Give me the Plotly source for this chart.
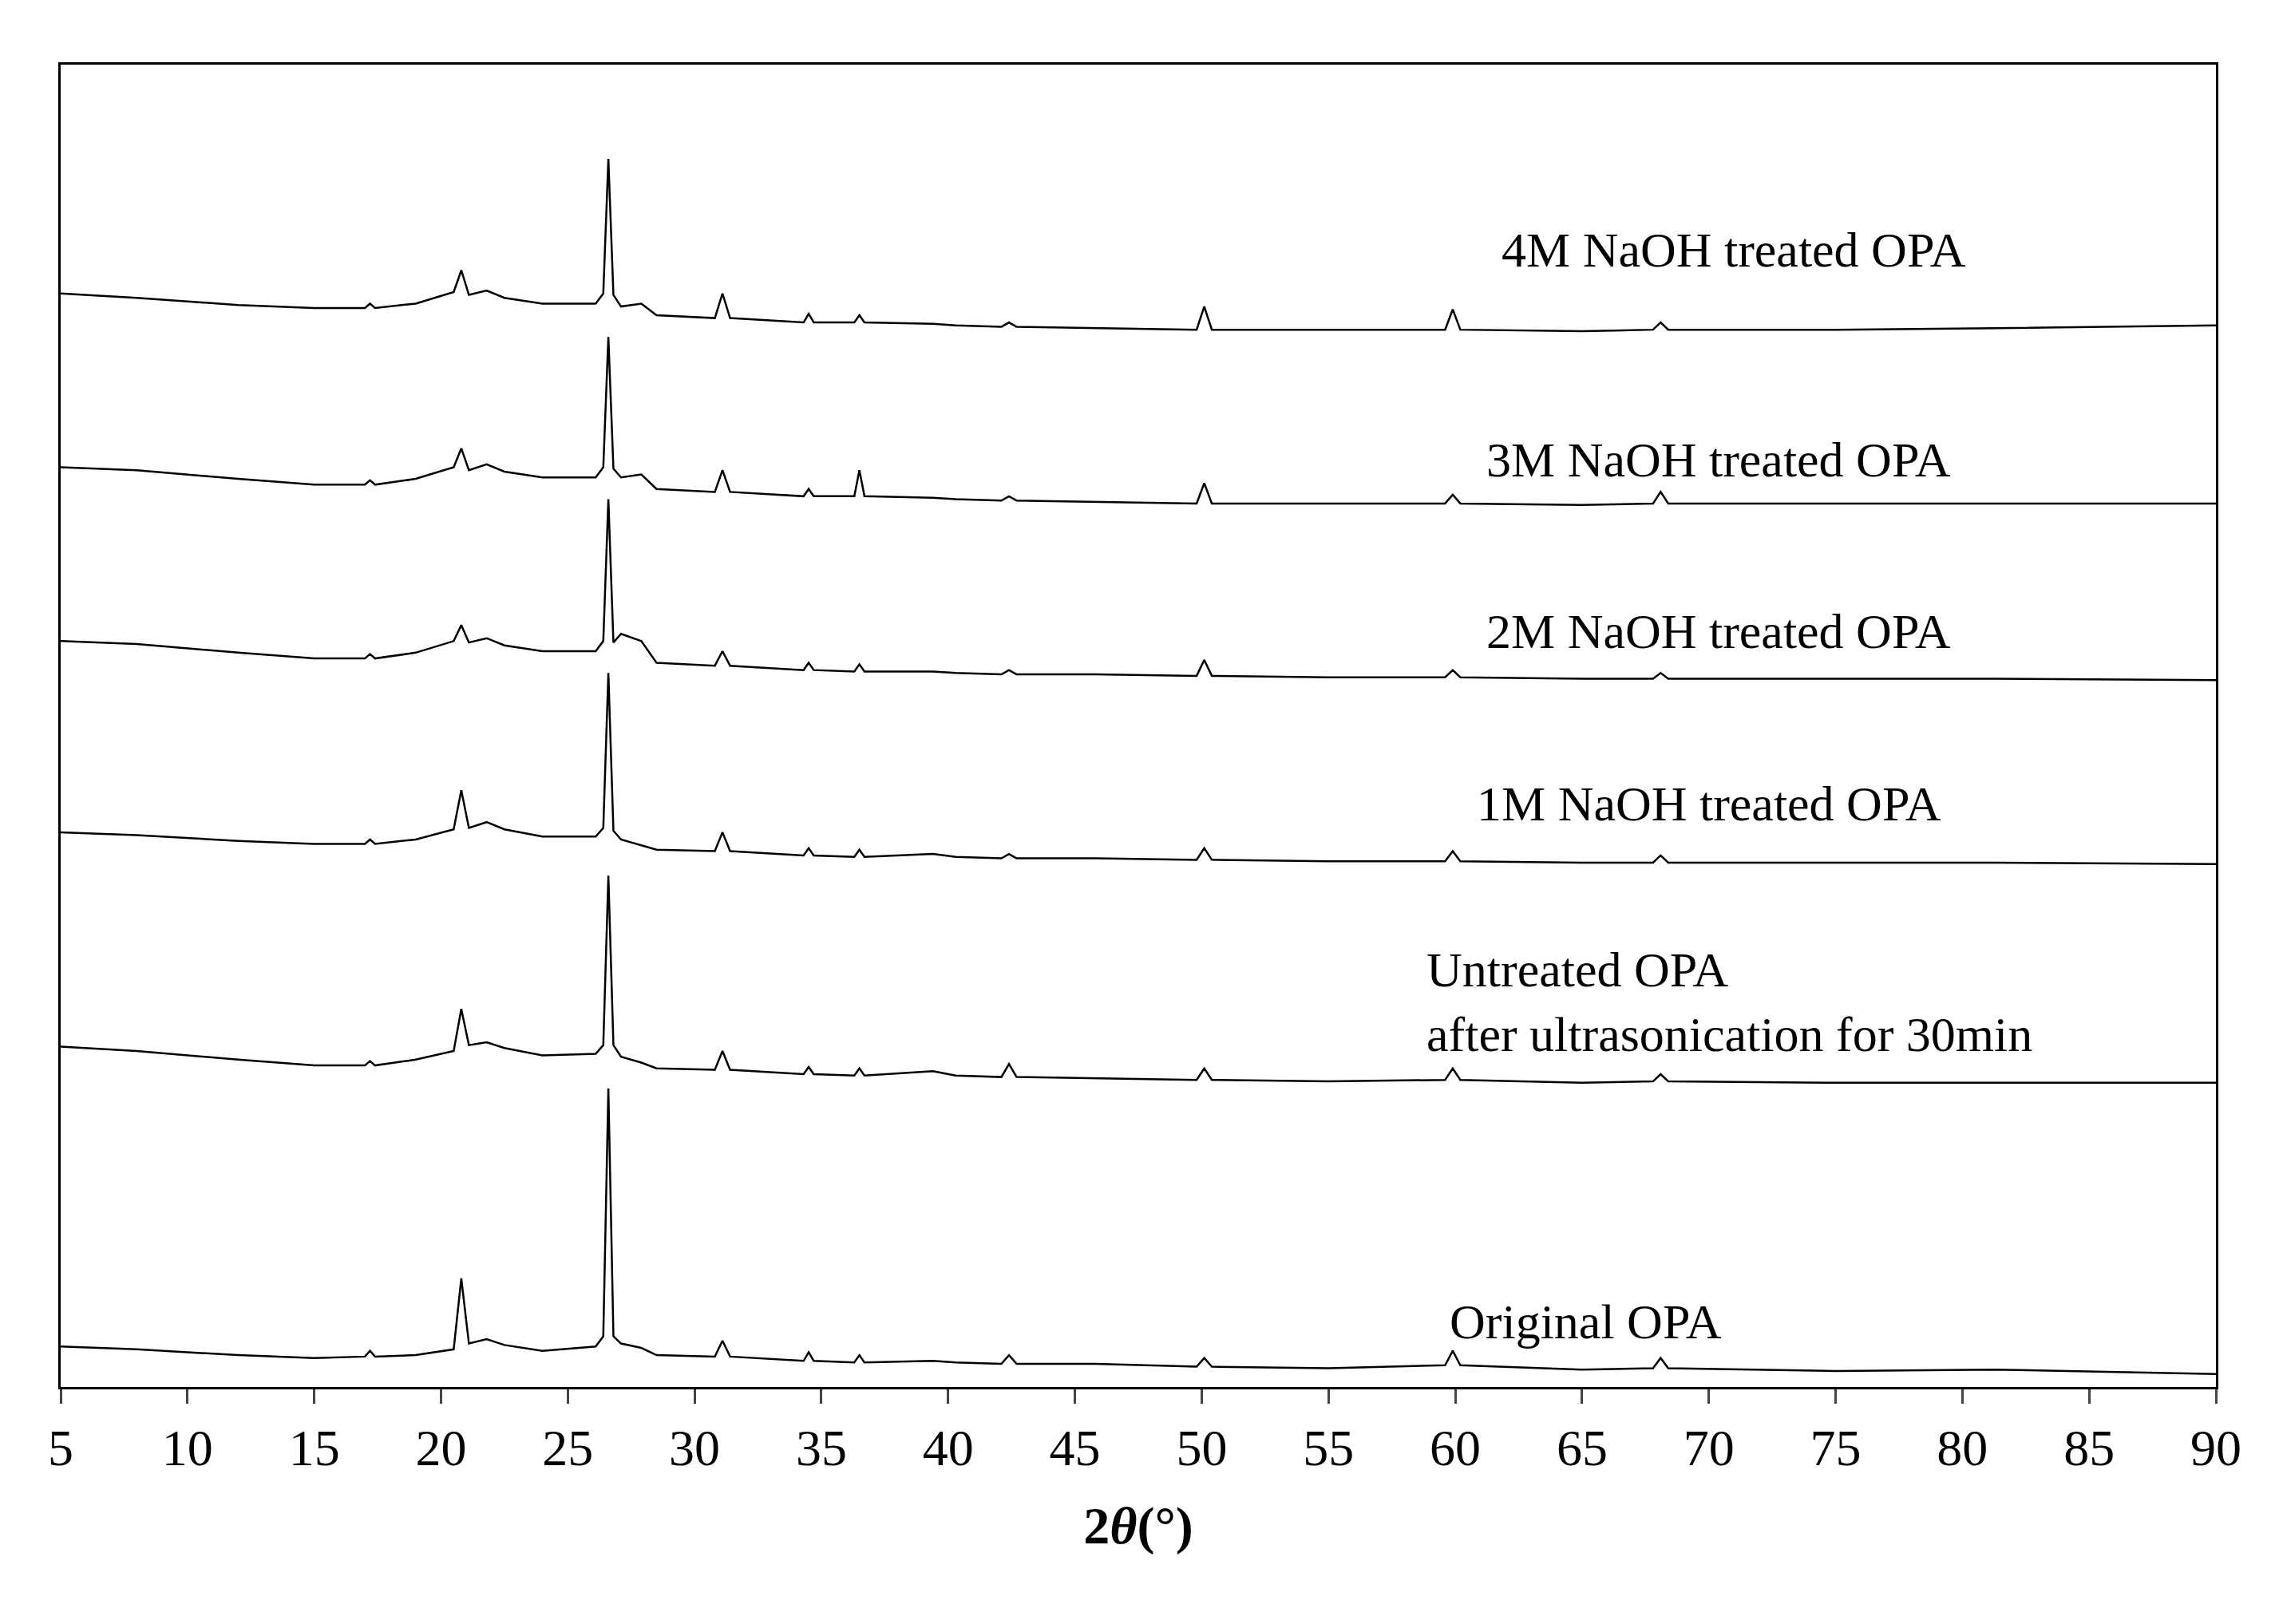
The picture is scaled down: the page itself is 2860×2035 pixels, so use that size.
import plotly.graph_objects as go

# 2theta grid (deg) shared by all patterns
two_theta = [5, 8, 12, 15, 17, 17.2, 17.4, 19, 20.5, 20.8, 21.1, 21.8, 22.5, 24, 26.1, 26.4,
             26.6, 26.8, 27.1, 27.9, 28.5, 30.8, 31.1, 31.4, 34.3, 34.5, 34.7, 36.3, 36.5, 36.7,
             39.4, 40.3, 42.1, 42.4, 42.7, 45.8, 49.8, 50.1, 50.4, 55, 59.6, 59.9, 60.2, 65,
             67.8, 68.1, 68.4, 75, 81.3, 90]

original = [28, 26, 22, 20, 21, 25, 21, 22, 26, 75, 30, 33, 29, 25, 28, 35, 206, 35, 30, 27,
            22, 21, 32, 21, 18, 24, 18, 17, 22, 17, 18, 17, 16, 22, 16, 16, 14, 20, 14, 13,
            15, 25, 15, 12, 13, 20, 13, 11, 12, 9]
untreated = [235, 232, 226, 222, 222, 225, 222, 226, 232, 261, 236, 238, 234, 229, 230, 236, 353,
             236, 228, 224, 220, 219, 232, 219, 216, 221, 216, 215, 220, 215, 218, 215, 214, 223,
             214, 213, 212, 220, 212, 211, 212, 220, 212, 210, 211, 216, 211, 210, 210, 210]
naoh_1m = [383, 381, 377, 375, 375, 378, 375, 378, 385, 412, 386, 390, 385, 380, 380, 386, 493,
           384, 378, 374, 371, 370, 383, 370, 367, 372, 367, 366, 371, 366, 368, 366, 365, 368,
           365, 365, 364, 372, 364, 363, 363, 370, 363, 362, 362, 367, 362, 362, 362, 361]
naoh_2m = [515, 513, 507, 503, 503, 506, 503, 507, 515, 526, 514, 517, 512, 508, 508, 515, 613,
           514, 520, 515, 500, 498, 508, 498, 495, 500, 495, 494, 499, 494, 494, 493, 492, 495,
           492, 492, 491, 502, 491, 490, 490, 495, 490, 489, 489, 493, 489, 489, 489, 488]
naoh_3m = [635, 633, 627, 623, 623, 626, 623, 627, 635, 648, 633, 637, 632, 628, 628, 635, 725,
           634, 628, 630, 620, 618, 633, 618, 615, 620, 615, 615, 633, 615, 614, 613, 612, 615,
           612, 611, 610, 624, 610, 610, 610, 616, 610, 609, 610, 618, 610, 610, 610, 610]
naoh_4m = [755, 752, 747, 745, 745, 748, 745, 748, 756, 771, 754, 757, 752, 748, 748, 755, 848,
           754, 746, 748, 740, 738, 755, 738, 735, 741, 735, 735, 740, 735, 734, 733, 732, 735,
           732, 731, 730, 746, 730, 730, 730, 744, 730, 729, 730, 735, 730, 730, 731, 733]

series = [original, untreated, naoh_1m, naoh_2m, naoh_3m, naoh_4m]

labels = ["Original OPA", "Untreated OPA<br>after ultrasonication for 30min",
          "1M NaOH treated OPA", "2M NaOH treated OPA", "3M NaOH treated OPA",
          "4M NaOH treated OPA"]
label_x = [59.7, 58.8, 70.0, 70.4, 70.4, 71.0]
label_y = [45, 266, 403, 522, 640, 785]
label_anchor = ["left", "left", "center", "center", "center", "center"]

fig = go.Figure()

for y in series:
    fig.add_trace(go.Scatter(x=two_theta, y=y, mode="lines",
                             line=dict(color="black", width=2.5), showlegend=False))

for text, x, y, anchor in zip(labels, label_x, label_y, label_anchor):
    fig.add_annotation(x=x, y=y, text=text, showarrow=False, xanchor=anchor,
                       align="left", font=dict(size=62, color="black"))

fig.update_layout(
    width=2860, height=2035,
    margin=dict(l=68, r=92, t=73, b=305),
    plot_bgcolor="white", paper_bgcolor="white",
    font=dict(family="Liberation Serif", color="black"),
)
fig.update_xaxes(range=[5, 90], tick0=5, dtick=5, ticks="outside", ticklen=18, tickwidth=3,
                 tickfont=dict(size=64), showline=True, linewidth=3, linecolor="black",
                 mirror=True, showgrid=False, zeroline=False,
                 title=dict(text="<b>2<i>θ</i>(°)</b>", font=dict(size=66), standoff=40))
fig.update_yaxes(range=[0, 913], showticklabels=False, ticks="", showline=True, linewidth=3,
                 linecolor="black", mirror=True, showgrid=False, zeroline=False)

fig.write_html("out.html")
